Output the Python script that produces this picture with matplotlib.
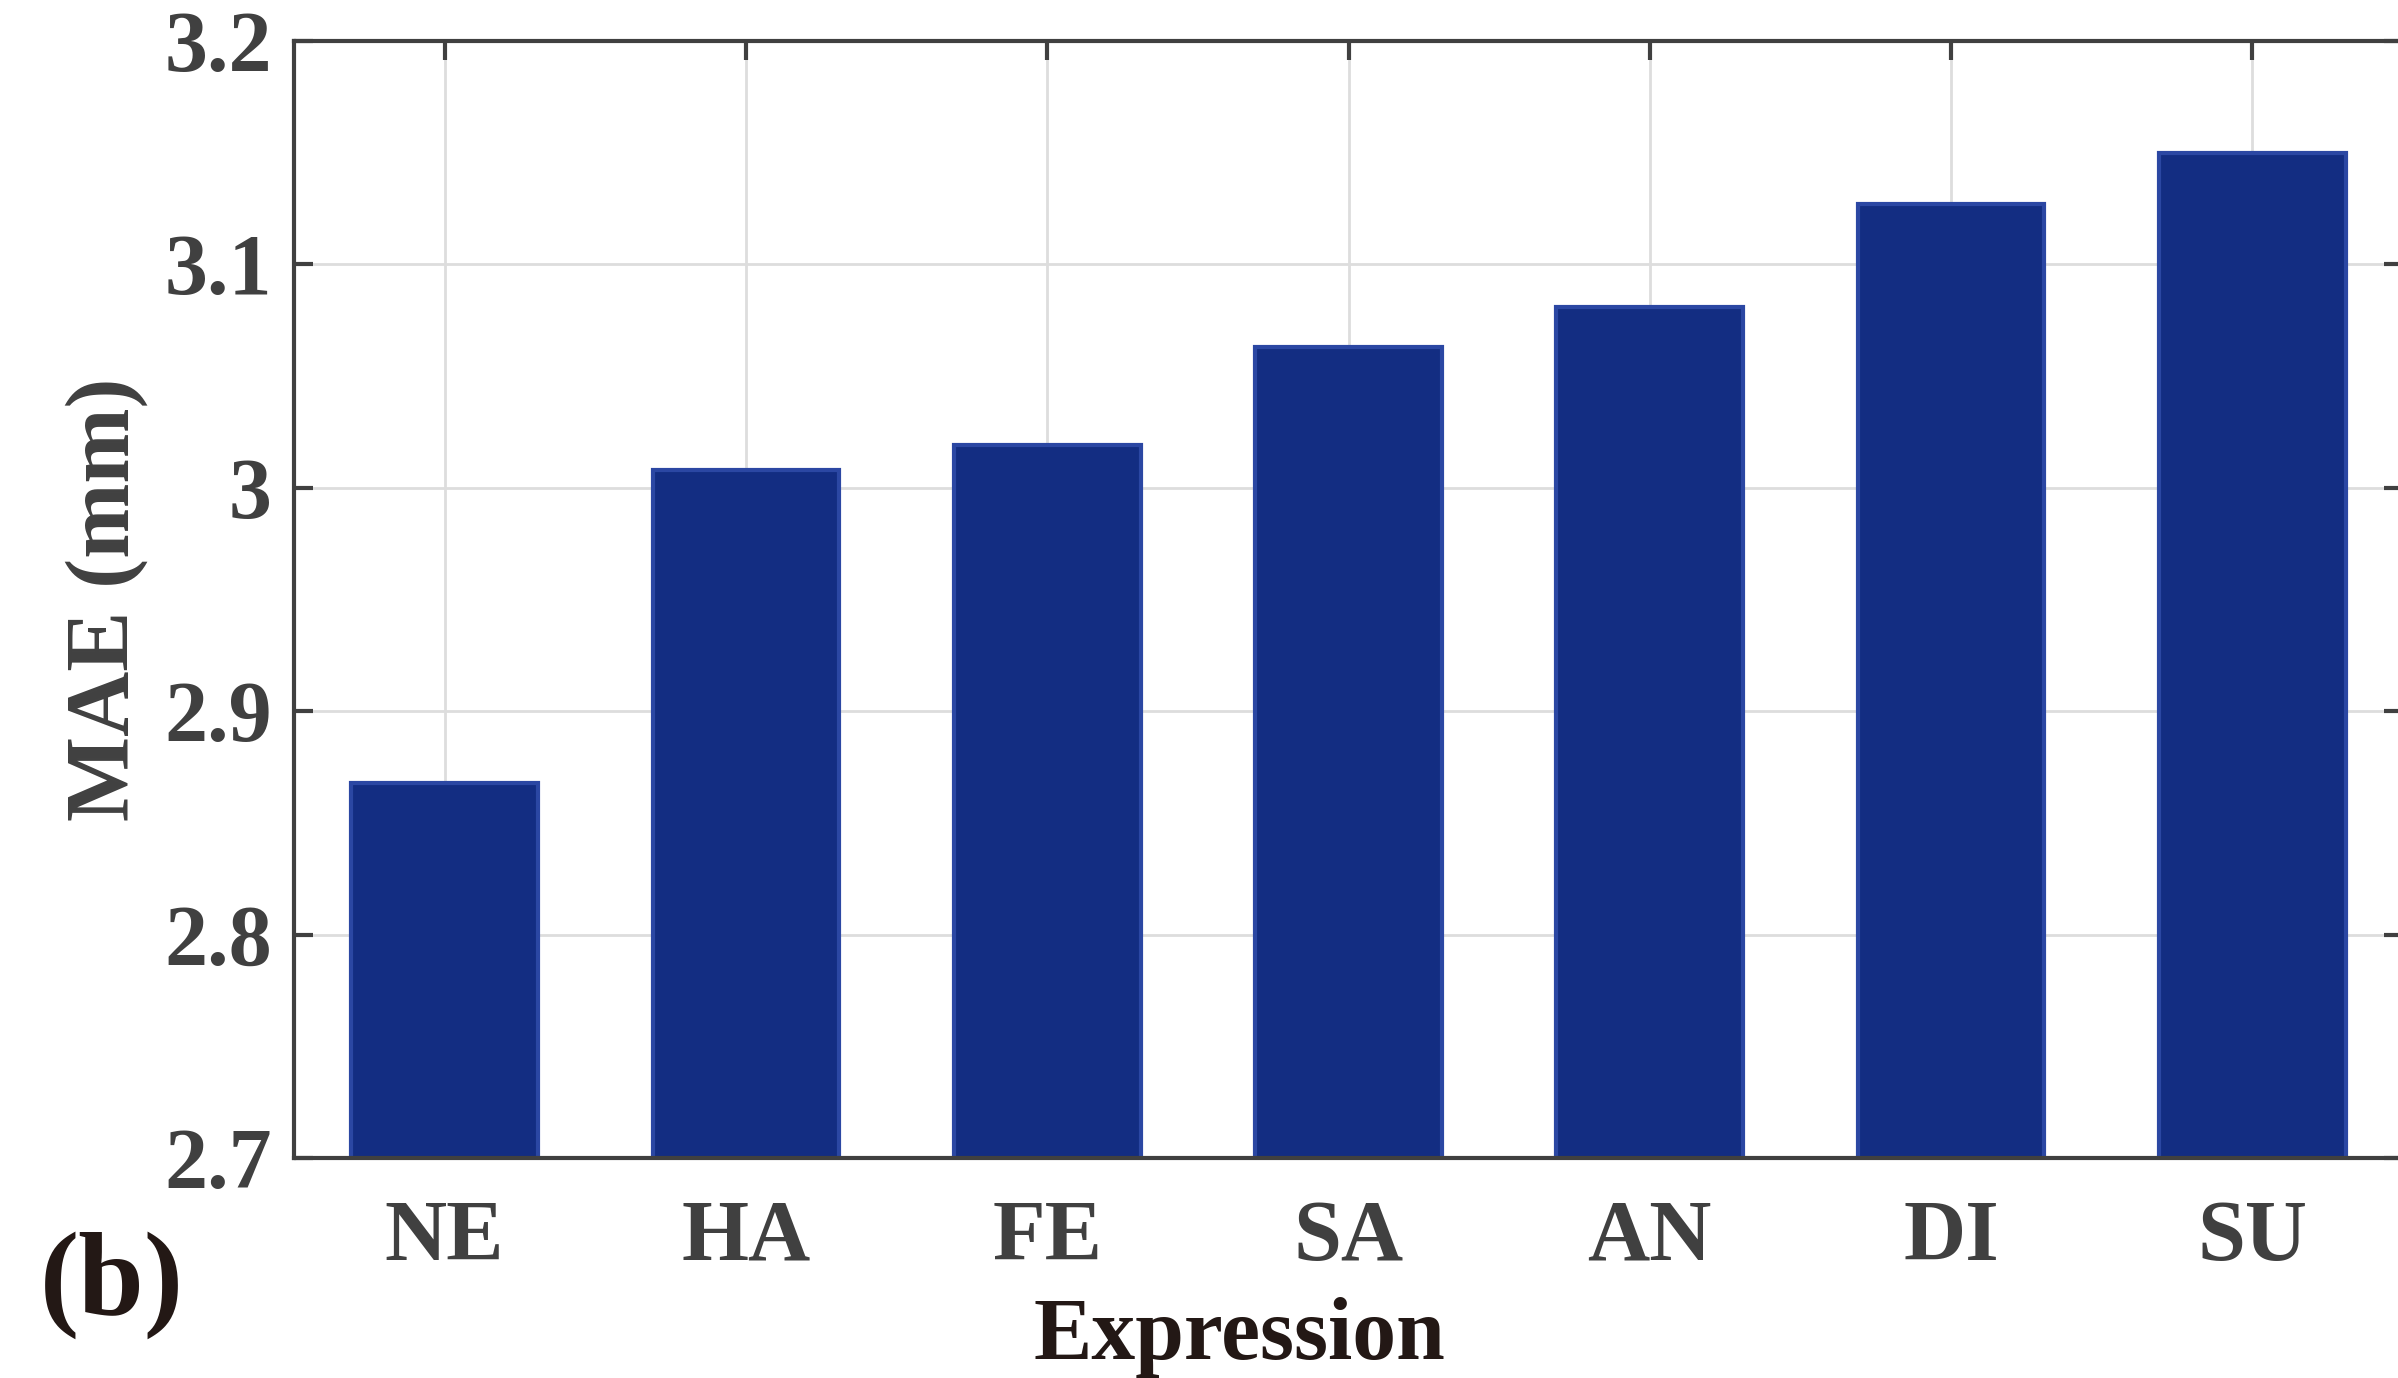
import numpy as np
import matplotlib.pyplot as plt

plt.rcParams['font.family'] = ['Liberation Serif', 'DejaVu Serif']
plt.rcParams['font.weight'] = 'bold'

expressions = ['NE', 'HA', 'FE', 'SA', 'AN', 'DI', 'SU']
mae = [2.868, 3.008, 3.019, 3.063, 3.081, 3.127, 3.150]
yticks = [2.7, 2.8, 2.9, 3.0, 3.1, 3.2]
ytick_labels = ['2.7', '2.8', '2.9', '3', '3.1', '3.2']

fig = plt.figure(figsize=(23.98, 13.78), dpi=100)
ax = fig.add_axes([294/2398, 1-1158/1378, (2403-294)/2398, (1158-41)/1378])

x = np.arange(1, len(expressions)+1)
ax.bar(x, mae, width=0.62, color='#132d82', edgecolor='#2b47a3', linewidth=3,
       bottom=0, zorder=3)

ax.set_xlim(0.5, 7.5)
ax.set_ylim(2.7, 3.2)
ax.set_xticks(x)
ax.set_xticklabels(expressions)
ax.set_yticks(yticks)
ax.set_yticklabels(ytick_labels)

ax.grid(True, color='#dddddd', linewidth=2, zorder=0)
ax.tick_params(direction='in', length=14, width=3, color='#404040',
               labelsize=62, labelcolor='#404040', top=True, right=True)
ax.tick_params(axis='x', pad=30)
ax.tick_params(axis='y', pad=16)
for s in ax.spines.values():
    s.set_color('#404040')
    s.set_linewidth(3)
    s.set_zorder(4)

ax.set_ylabel('MAE (mm)', fontsize=65, color='#404040', fontweight='bold')
ax.yaxis.set_label_coords(-0.069, 0.5)
ax.set_xlabel('Expression', fontsize=63, color='#231815', fontweight='bold')
ax.xaxis.set_label_coords((1239-294)/(2403-294), -0.124)

fig.text(112/2398, 1-1285/1378, '(b)', fontsize=85, fontweight='bold',
         color='#231815', ha='center', va='center')

plt.savefig('out.png', dpi=100)
